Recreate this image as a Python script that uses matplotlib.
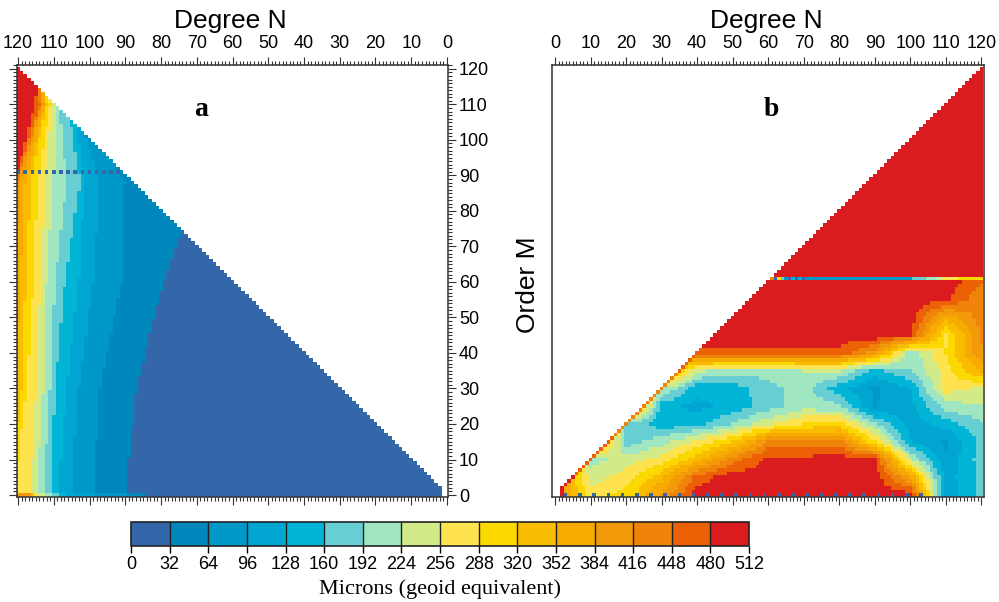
import numpy as np
import matplotlib
matplotlib.use("Agg")
import matplotlib.pyplot as plt
from matplotlib.colors import ListedColormap, BoundaryNorm
from matplotlib.cm import ScalarMappable
from matplotlib.ticker import MultipleLocator

plt.rcParams['font.family'] = ['Liberation Sans', 'DejaVu Sans']

# colour scale (microns of geoid)
levels = list(range(0, 513, 32))
band_colors = ['#3367A9', '#0087BB', '#0097C9', '#00A5D1', '#00B5D5', '#67CED3',
               '#A0E6C0', '#D3EA88', '#FEE34F', '#FBD800', '#F9BC00', '#F7AB00',
               '#F39A0B', '#F08309', '#EC6106', '#DA1C1E']

# panel a: degree at which each level 32, 64 ... 480 is reached, for a few orders
a_orders = [0, 1, 30, 60, 88, 110, 115, 120]
a_level_degrees = [
    [85.0, 90.0, 98.9, 106.9, 108.7, 111.0, 112.9, 114.3, 115.2, 116.0, 116.6, 117.0, 122, 123, 124],
    [90.0, 98.9, 105.0, 108.7, 110.9, 112.9, 114.8, 116.6, 121.0, 122, 123, 124, 125, 126, 127],
    [86.8, 97.1, 103.1, 106.4, 109.7, 111.0, 112.9, 114.8, 117.6, 119.0, 121.0, 122, 123, 124, 125],
    [79.3, 91.0, 98.9, 103.1, 106.9, 109.7, 112.0, 113.8, 115.7, 117.8, 119.4, 121.0, 122, 123, 124],
    [70.0, 90.0, 97.1, 101.3, 102.7, 106.4, 110.1, 112.4, 114.6, 116.5, 118.0, 119.3, 120.3, 120.7, 121.0],
    [100.0, 102.0, 104.0, 105.0, 106.0, 108.5, 109.2, 110.3, 111.0, 112.0, 112.5, 113.0, 113.5, 114.0, 115.5],
    [105.0, 106.0, 107.0, 108.0, 109.0, 110.0, 111.0, 111.5, 112.0, 112.5, 113.0, 113.5, 114.0, 114.3, 114.6],
    [110.0, 111.0, 112.0, 113.0, 114.0, 115.0, 115.5, 116.0, 116.5, 117.0, 117.2, 117.4, 117.6, 117.8, 118.0],
]
a_dot_order = 91

# panel b: values read on a coarse degree/order grid
b_degrees = [0, 10, 20, 30, 40, 50, 60, 70, 80, 90, 100, 110, 120]
b_orders = [0, 5, 10, 15, 20, 25, 30, 35, 40, 45, 50, 55, 60]
b_values = [
    [420, 270, 300, 390, 500, 500, 500, 500, 500, 500, 500, 100, 170],
    [420, 240, 270, 340, 460, 500, 500, 500, 500, 500, 380, 110, 170],
    [420, 210, 240, 270, 340, 430, 490, 490, 500, 490, 230, 100, 175],
    [420, 420, 175, 210, 265, 320, 420, 430, 430, 290, 130, 90, 170],
    [420, 420, 190, 140, 150, 195, 250, 290, 300, 200, 110, 140, 190],
    [420, 420, 420, 140, 118, 140, 175, 210, 200, 95, 115, 210, 220],
    [420, 420, 420, 230, 140, 145, 180, 205, 140, 90, 130, 270, 250],
    [420, 420, 420, 420, 230, 205, 205, 225, 225, 150, 190, 270, 360],
    [470, 470, 470, 470, 470, 470, 470, 470, 470, 400, 200, 290, 410],
    [500, 500, 500, 500, 500, 500, 500, 500, 500, 500, 480, 280, 420],
    [500, 500, 500, 500, 500, 500, 500, 500, 500, 500, 500, 360, 430],
    [500, 500, 500, 500, 500, 500, 500, 500, 500, 500, 500, 490, 420],
    [500, 500, 500, 500, 500, 500, 500, 500, 500, 500, 500, 500, 450],
]
b_edge_orders = [0, 10, 20, 30, 40, 45]
b_edge_values = [500, 460, 440, 430, 470, 500]
b_line_order = 61
b_line_start = [61, 62, 63, 64, 65, 66, 67, 68, 69, 70, 71, 101, 105, 108, 110, 114]
b_line_values = [440, 16, 300, 170, 80, 16, 140, 16, 140, 16, 80, 170, 210, 240, 270, 300]

deg = np.arange(2, 121)
order = np.arange(0, 121)

# build panel a cells
thr = np.array(a_level_degrees)
grid_a = np.full((order.size, deg.size), np.nan)
for m in order:
    t = np.array([np.interp(m, a_orders, thr[:, k]) for k in range(thr.shape[1])])
    band = (deg[:, None] >= t[None, :]).sum(axis=1)
    grid_a[m] = 32 * band + 16
grid_a[a_dot_order, (deg % 2 == 0)] = 16
grid_a[order[:, None] > deg[None, :]] = np.nan

# build panel b cells
tab = np.array(b_values, float)
rows = np.array([np.interp(deg, b_degrees, r) for r in tab])
grid_b = np.full((order.size, deg.size), 500.0)
for j in range(deg.size):
    grid_b[:61, j] = np.interp(order[:61], b_orders, rows[:, j])
for m in range(0, 61):
    n_edge = max(m, 2)
    grid_b[m, deg == n_edge] = np.interp(m, b_edge_orders, b_edge_values)
grid_b[0, (deg % 4 == 3) & (deg <= 104)] = 16
seg = np.searchsorted(b_line_start, deg, side='right') - 1
line = np.where(seg >= 0, np.array(b_line_values)[np.clip(seg, 0, None)], 500)
grid_b[b_line_order] = line
grid_b[order[:, None] > deg[None, :]] = np.nan

cmap = ListedColormap(band_colors)
cmap.set_bad('white')
norm = BoundaryNorm(levels, cmap.N)

x_edges = np.arange(1.5, 121.0, 1.0)
y_edges = np.arange(-0.5, 121.0, 1.0)

fig = plt.figure(figsize=(9.99, 6.02), dpi=100)
ax_a = fig.add_axes([16.5 / 999, 1 - 496.5 / 602, 431.5 / 999, 431.5 / 602])
ax_b = fig.add_axes([552 / 999, 1 - 496.5 / 602, 431.5 / 999, 431.5 / 602])

ax_a.pcolormesh(x_edges, y_edges, np.ma.masked_invalid(grid_a), cmap=cmap, norm=norm)
ax_b.pcolormesh(x_edges, y_edges, np.ma.masked_invalid(grid_b), cmap=cmap, norm=norm)

ax_a.set_xlim(120.42, -0.28)
ax_b.set_xlim(-0.85, 120.6)
for ax in (ax_a, ax_b):
    ax.set_ylim(-0.42, 121.1)
    ax.set_xticks(range(0, 121, 10))
    ax.xaxis.set_minor_locator(MultipleLocator(1))
    ax.tick_params(axis='x', which='both', top=True, bottom=True, labeltop=True,
                   labelbottom=False, direction='out', color='#333333', width=0.8)
    ax.tick_params(which='major', length=6, labelsize=13, pad=3)
    ax.tick_params(which='minor', length=3)
    for sp in ax.spines.values():
        sp.set_color('#333333')
        sp.set_linewidth(1.1)

ax_a.set_yticks(range(0, 121, 10))
ax_a.yaxis.set_minor_locator(MultipleLocator(1))
ax_a.tick_params(axis='y', which='both', left=True, right=True, labelleft=False,
                 labelright=True, direction='out', color='#333333', width=0.8, pad=2)
ax_b.tick_params(axis='y', which='both', left=False, right=False, labelleft=False)

fig.text(230 / 999, 1 - 28 / 602, 'Degree N', ha='center', va='baseline', fontsize=19)
fig.text(766 / 999, 1 - 28 / 602, 'Degree N', ha='center', va='baseline', fontsize=19)
fig.text(528 / 999, 1 - 285 / 602, 'Order M', ha='center', va='center',
         rotation=90, fontsize=19)
fig.text(201 / 999, 1 - 109 / 602, 'a', ha='center', va='center', fontsize=20,
         fontweight='bold', family='Liberation Serif')
fig.text(771 / 999, 1 - 110 / 602, 'b', ha='center', va='center', fontsize=20,
         fontweight='bold', family='Liberation Serif')

cax = fig.add_axes([131 / 999, 1 - 546 / 602, 618 / 999, 24 / 602])
cb = fig.colorbar(ScalarMappable(norm=norm, cmap=cmap), cax=cax,
                  orientation='horizontal', ticks=levels, drawedges=True)
cb.outline.set_linewidth(1.2)
cb.outline.set_edgecolor('#222222')
cb.dividers.set_color('#222222')
cb.dividers.set_linewidth(1.0)
cax.tick_params(direction='out', length=5, width=1, labelsize=13, pad=2)
fig.text(440 / 999, 1 - 589 / 602, 'Microns (geoid equivalent)', ha='center',
         va='center', fontsize=16, family='Liberation Serif')

fig.savefig('out.png', dpi=100)
